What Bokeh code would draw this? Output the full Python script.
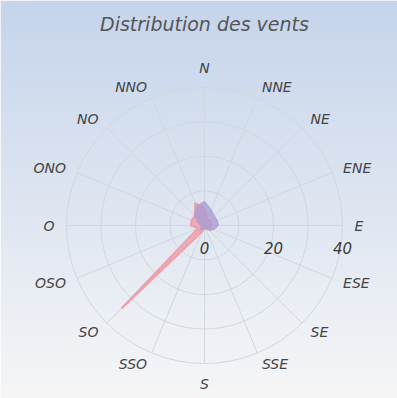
import numpy as np
from bokeh.plotting import figure
from bokeh.models import Range1d
from bokeh.core.properties import value
from bokeh.embed import file_html
from bokeh.resources import INLINE

# ---- data ----
directions = ["N", "NNE", "NE", "ENE", "E", "ESE", "SE", "SSE",
              "S", "SSO", "SO", "OSO", "O", "ONO", "NO", "NNO"]
series_pink = [5, 2, 2, 2, 2, 2, 1, 1, 1, 2, 34, 2, 4, 4, 4, 7]
series_purple = [7, 5, 4, 4, 4, 3, 2, 1, 1, 1, 2, 1, 1, 2, 4, 6]
ring_values = [10, 20, 30, 40]
radial_tick_values = [0, 20, 40]
radial_tick_labels = ["0", "20", "40"]
title_text = "Distribution des vents"

# ---- geometry ----
W, H = 397, 398
PX = 3.45                 # pixels per unit
cx_px, cy_px = 204, 225   # centre in pixels (from top-left)
x0 = -cx_px / PX
x1 = (W - cx_px) / PX
y1 = cy_px / PX
y0 = -(H - cy_px) / PX

p = figure(width=W, height=H, output_backend="svg", toolbar_location=None,
           x_range=Range1d(x0, x1), y_range=Range1d(y0, y1),
           min_border=0, outline_line_color=None)
p.axis.visible = False
p.xgrid.visible = False
p.ygrid.visible = False
p.background_fill_color = "white"
p.border_fill_color = "white"

# ---- gradient background ----
N = 200
top = np.array([198, 213, 236])
bot = np.array([246, 246, 247])
img = np.zeros((N, 1), dtype=np.uint32)
view = img.view(dtype=np.uint8).reshape((N, 1, 4))
for j in range(N):
    t = j / (N - 1)   # 0 bottom -> 1 top
    c = bot + (top - bot) * t
    view[j, 0, 0] = int(c[0]); view[j, 0, 1] = int(c[1]); view[j, 0, 2] = int(c[2]); view[j, 0, 3] = 255
p.image_rgba(image=[img], x=x0, y=y0, dw=x1 - x0, dh=y1 - y0)

# ---- grid ----
ang = np.deg2rad(np.arange(16) * 22.5)
Rmax = 40
grid_color = "#d2d7df"
p.segment(x0=[0] * 16, y0=[0] * 16, x1=list(Rmax * np.sin(ang)), y1=list(Rmax * np.cos(ang)),
          line_color=grid_color, line_width=1)
p.circle(x=[0] * len(ring_values), y=[0] * len(ring_values), radius=ring_values,
         fill_color=None, line_color=grid_color, line_width=1)

# ---- series (closed polar areas) ----
def polar(vals):
    v = np.array(vals, dtype=float)
    return list(v * np.sin(ang)), list(v * np.cos(ang))

xs, ys = polar(series_pink)
p.patch(xs, ys, fill_color="#f0a6b0", fill_alpha=0.9, line_color="#eea0aa", line_width=2)
xs, ys = polar(series_purple)
p.patch(xs, ys, fill_color="#a59ad2", fill_alpha=0.75, line_color="#ab9fd6", line_width=1)

# ---- direction labels ----
rl = 150 / PX
lx, ly, la, lb = [], [], [], []
for i, d in enumerate(directions):
    s, c = np.sin(ang[i]), np.cos(ang[i])
    lx.append(rl * s)
    ly.append(rl * c)
    if s > 0.3:
        la.append("left")
    elif s < -0.3:
        la.append("right")
    else:
        la.append("center")
    if c > 0.95:
        lb.append("bottom")
    elif c < -0.95:
        lb.append("top")
    else:
        lb.append("middle")
p.text(x=lx, y=ly, text=directions, text_align=la, text_baseline=lb,
       text_font=value("DejaVu Sans"), text_font_style="italic",
       text_font_size="14px", text_color="#444444")

# ---- radial tick labels ----
p.text(x=radial_tick_values, y=[-22 / PX] * len(radial_tick_values), text=radial_tick_labels,
       text_align="center", text_baseline="middle",
       text_font=value("DejaVu Sans"), text_font_style="italic",
       text_font_size="15px", text_color="#3a3a3a")

# ---- title ----
p.text(x=[(204 - cx_px) / PX], y=[(cy_px - 23) / PX], text=[title_text],
       text_align="center", text_baseline="middle",
       text_font=value("DejaVu Sans"), text_font_style="italic",
       text_font_size="19px", text_color="#555555")

open("out.html", "w").write(file_html(p, INLINE))
